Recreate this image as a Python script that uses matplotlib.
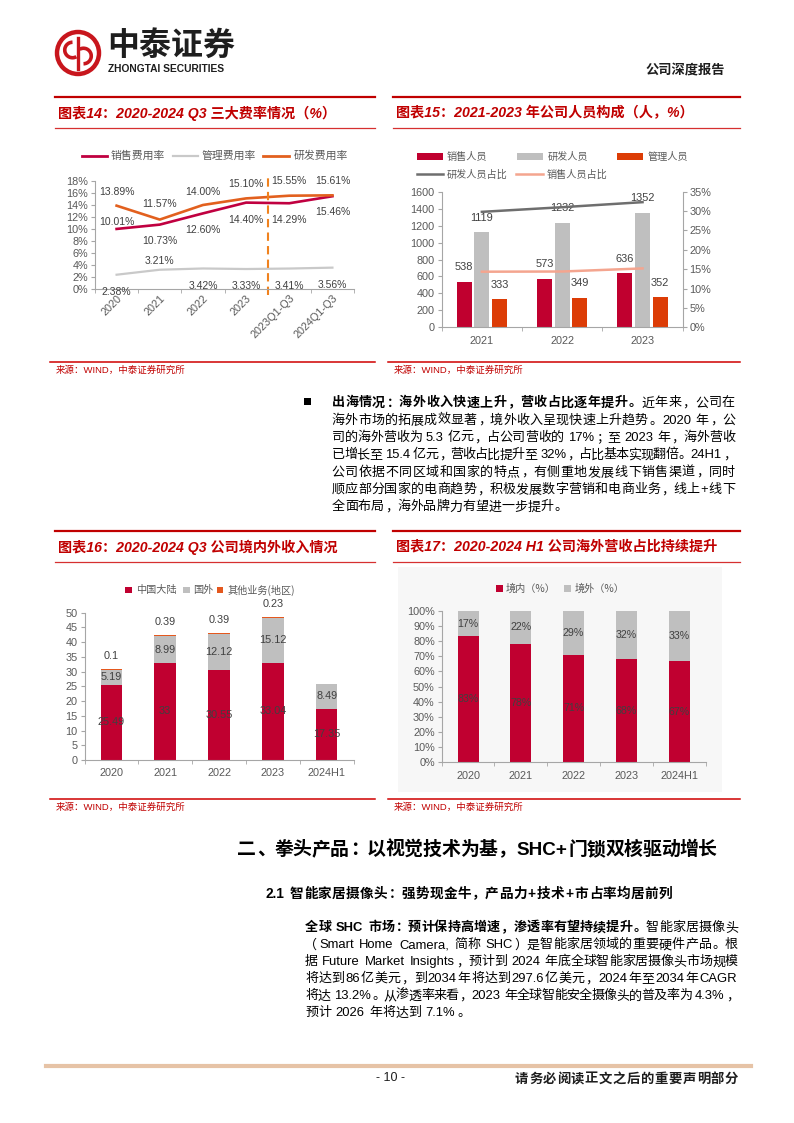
import re
import matplotlib
matplotlib.use('Agg')
import matplotlib.pyplot as plt
from matplotlib.lines import Line2D
from matplotlib.patches import Rectangle, Circle, Arc
from matplotlib import font_manager
import numpy as np

# ---------------- data ----------------
# Chart 14
fee_cats = ['2020', '2021', '2022', '2023', '2023Q1-Q3', '2024Q1-Q3']
sales_rate = [10.01, 10.73, 12.60, 14.40, 14.29, 15.46]
admin_rate = [2.38, 3.21, 3.42, 3.33, 3.41, 3.56]
rd_rate = [13.89, 11.57, 14.00, 15.10, 15.55, 15.61]

# Chart 15
staff_years = ['2021', '2022', '2023']
sales_staff = [538, 573, 636]
rd_staff = [1119, 1232, 1352]
admin_staff = [333, 349, 352]
rd_staff_pct = [29.8, 31.0, 32.3]
sales_staff_pct = [14.35, 14.4, 15.2]

# Chart 16
rev_years = ['2020', '2021', '2022', '2023', '2024H1']
rev_mainland = [25.49, 33, 30.55, 33.04, 17.35]
rev_overseas = [5.19, 8.99, 12.12, 15.12, 8.49]
rev_other = [0.1, 0.39, 0.39, 0.23, 0.0]

# Chart 17
share_years = ['2020', '2021', '2022', '2023', '2024H1']
share_domestic = [83, 78, 71, 68, 67]
share_overseas = [17, 22, 29, 32, 33]

# ---------------- setup ----------------
W, H = 794, 1123
_names = {f.name for f in font_manager.fontManager.ttflist}
NARROW = 'Liberation Sans Narrow' if 'Liberation Sans Narrow' in _names else 'Liberation Sans'
CJK = ['Noto Sans CJK SC', 'DejaVu Sans']
LAT = ['Liberation Sans', 'Noto Sans CJK SC', 'DejaVu Sans']
NAR = [NARROW, 'Noto Sans CJK SC', 'DejaVu Sans']
plt.rcParams['font.family'] = LAT

RED = '#C00000'
GRAYTXT = '#595959'
AXC = '#A6A6A6'

fig = plt.figure(figsize=(W / 100, H / 100), dpi=100)
renderer = fig.canvas.get_renderer()


def fx(x):
    return x / W


def fy(y):
    return 1 - y / H


def rect(l, t, r, b):
    return [l / W, 1 - b / H, (r - l) / W, (b - t) / H]


def hline(x0, x1, y, color, lw):
    fig.add_artist(Line2D([fx(x0), fx(x1)], [fy(y), fy(y)], color=color, lw=lw))


def txt(x, y, s, **kw):
    kw.setdefault('va', 'center')
    return fig.text(fx(x), fy(y), s, **kw)


def legend_line(x0, x1, y, color, lw, label, tx, size=7.3):
    hline(x0, x1, y, color, lw)
    txt(tx, y, label, fontsize=size, color=GRAYTXT, family=CJK)


def legend_box(x0, x1, y, h, color, label, tx, size=7.3):
    fig.add_artist(Rectangle((fx(x0), fy(y + h / 2)), (x1 - x0) / W, h / H,
                             transform=fig.transFigure, color=color, lw=0))
    txt(tx, y, label, fontsize=size, color=GRAYTXT, family=CJK)


TOK = r"[A-Za-z0-9.%+\-,()/]+| |[^A-Za-z0-9.%+\-,()/ ]"
OPEN = '（“《【'
CLOSEP = '，。：；、）”》】！？'


def jline(x0, x1, yc, segs, size, justify=True, color='#000000', latfam=LAT):
    em = size * 100 / 72
    base = yc + 0.36 * em
    entries = []
    for s, wt in segs:
        for m in re.finditer(TOK, s):
            t = m.group()
            if t == ' ':
                entries.append((None, 0.28 * em, 0))
            elif len(t) == 1 and ord(t) > 0x2E7F:
                if t in OPEN:
                    ha, off = 'right', 0.92 * em
                elif t in CLOSEP:
                    ha, off = 'left', 0.08 * em
                else:
                    ha, off = 'center', 0.5 * em
                o = fig.text(0, fy(base), t, fontsize=size, fontweight=wt, family=CJK,
                             ha=ha, va='baseline', color=color)
                entries.append((o, em, off))
            else:
                o = fig.text(0, fy(base), t, fontsize=size, fontweight=wt, family=latfam,
                             ha='left', va='baseline', color=color)
                w = o.get_window_extent(renderer).width
                entries.append((o, w + 0.12 * em, 0.06 * em))
    total = sum(e[1] for e in entries)
    gap = (x1 - x0 - total) / (len(entries) - 1) if (justify and len(entries) > 1) else 0
    x = x0
    for o, w, off in entries:
        if o is not None:
            o.set_x(fx(x + off))
        x += w + gap


def chart_frame(x0, x1, ytop, title, ysrc_line):
    hline(x0, x1, ytop, RED, 1.6)
    txt(x0 + 3, ytop + 16, title, fontsize=10.2, color=RED, fontweight='bold',
        style='italic', family=LAT)
    hline(x0, x1, ytop + 31, '#D63030', 0.9)
    hline(x0 - 5, x1, ysrc_line, '#D00000', 1.1)
    txt(x0 + 1, ysrc_line + 8, '来源：WIND，中泰证券研究所', fontsize=6.8, color=RED, family=LAT)


def style_cat_axes(ax, n, labels, rot=0):
    ax.set_xlim(-0.5, n - 0.5)
    ax.set_xticks(range(n))
    if rot:
        ax.set_xticklabels(labels, rotation=rot, ha='right', rotation_mode='anchor')
    else:
        ax.set_xticklabels(labels)
    ax.set_xticks(np.arange(-0.5, n, 1.0), minor=True)
    ax.tick_params(axis='x', which='major', length=0, pad=6, labelsize=7.8, labelcolor=GRAYTXT)
    ax.tick_params(axis='x', which='minor', length=3, color=AXC)
    ax.tick_params(axis='y', length=3, color=AXC, labelsize=7.8, labelcolor=GRAYTXT, pad=2)
    for s in ['top', 'right']:
        ax.spines[s].set_visible(False)
    for s in ['left', 'bottom']:
        ax.spines[s].set_color(AXC)
        ax.spines[s].set_linewidth(0.8)
    ax.set_facecolor('none')


# ---------------- header ----------------
axl = fig.add_axes(rect(53, 28, 103, 78))
axl.set_xlim(-1, 1)
axl.set_ylim(-1, 1)
axl.axis('off')
axl.add_patch(Circle((0, 0), 0.84, fill=False, ec='#C8161D', lw=3.2))
axl.add_patch(Arc((-0.22, 0.12), 0.62, 0.62, theta1=90, theta2=300, color='#C8161D', lw=2.6))
axl.add_patch(Arc((0.22, -0.12), 0.62, 0.62, theta1=-90, theta2=120, color='#C8161D', lw=2.6))
axl.plot([0, 0], [-0.62, 0.62], color='#C8161D', lw=2.4)

txt(107, 46, '中泰证券', fontsize=23, fontweight='bold', color='#1E1E1E', family=CJK)
txt(108, 69, 'ZHONGTAI SECURITIES', fontsize=7.4, fontweight='bold', color='#1E1E1E', family=NAR)
txt(645, 69, '公司深度报告', fontsize=9.5, fontweight='bold', color='#1E1E1E', family=CJK)

# ---------------- chart frames ----------------
chart_frame(55, 375, 97, '图表14：2020-2024 Q3 三大费率情况（%）', 362)
chart_frame(393, 740, 97, '图表15：2021-2023 年公司人员构成（人，%）', 362)
chart_frame(55, 375, 531, '图表16：2020-2024 Q3 公司境内外收入情况', 799)
chart_frame(393, 740, 531, '图表17：2020-2024 H1 公司海外营收占比持续提升', 799)

# ---------------- chart 14 ----------------
C_SALES = '#C00040'
C_ADMIN = '#C9C9C9'
C_RD = '#E2601E'
ax1 = fig.add_axes(rect(95, 181, 354, 289))
x6 = np.arange(len(fee_cats))
ax1.plot(x6, admin_rate, color=C_ADMIN, lw=1.6)
ax1.plot(x6, sales_rate, color=C_SALES, lw=1.9)
ax1.plot(x6, rd_rate, color=C_RD, lw=1.9)
ax1.plot([3.5, 3.5], [-1.0, 19.0], color='#F0821E', lw=1.5, ls=(0, (4, 2.5)), clip_on=False)
style_cat_axes(ax1, len(fee_cats), fee_cats, rot=45)
ax1.tick_params(axis='x', which='major', pad=3)
ax1.set_ylim(0, 18)
ax1.set_yticks(range(0, 19, 2))
ax1.set_yticklabels([f'{v}%' for v in range(0, 19, 2)])
rd_up = [13.7, 15.6, 13, 14.4, 14.7, 14]
sales_up = [7, -16.4, -16.6, -17.4, -16.7, -16]
admin_up = [-17, 9, -17.5, -17, -17, -17]
for vals, ups in [(rd_rate, rd_up), (sales_rate, sales_up), (admin_rate, admin_up)]:
    for i, (v, u) in enumerate(zip(vals, ups)):
        ax1.annotate(f'{v:.2f}%', (i, v), xytext=(0, u), textcoords='offset pixels',
                     ha='center', va='center', fontsize=7.5, color='#404040',
                     annotation_clip=False)
legend_line(82, 107, 156, C_SALES, 2.0, '销售费用率', 111, size=7.8)
legend_line(173, 198, 156, C_ADMIN, 1.6, '管理费用率', 202, size=7.8)
legend_line(263, 289, 156, C_RD, 2.0, '研发费用率', 294, size=7.8)

# ---------------- chart 15 ----------------
C_B1 = '#C0002F'
C_B2 = '#BFBFBF'
C_B3 = '#DC3C06'
ax2 = fig.add_axes(rect(441.7, 191.7, 682.7, 327.3))
x3 = np.arange(len(staff_years))
bw = 0.185
off = 0.22
ax2.bar(x3 - off, sales_staff, bw, color=C_B1, lw=0)
ax2.bar(x3, rd_staff, bw, color=C_B2, lw=0)
ax2.bar(x3 + off, admin_staff, bw, color=C_B3, lw=0)
style_cat_axes(ax2, len(staff_years), staff_years)
ax2.set_ylim(0, 1600)
ax2.set_yticks(range(0, 1601, 200))
for dx, vals in [(-off, sales_staff), (0, rd_staff), (off, admin_staff)]:
    for i, v in enumerate(vals):
        ax2.annotate(f'{v}', (i + dx, v), xytext=(0, 14.5), textcoords='offset pixels',
                     ha='center', va='center', fontsize=7.9, color='#404040')
ax2r = ax2.twinx()
ax2r.set_ylim(0, 35)
ax2r.set_yticks(range(0, 36, 5))
ax2r.set_yticklabels([f'{v}%' for v in range(0, 36, 5)])
ax2r.plot(x3, rd_staff_pct, color='#6E6E6E', lw=1.8)
ax2r.plot(x3, sales_staff_pct, color='#F4A58F', lw=1.8)
for s in ['top', 'left', 'bottom']:
    ax2r.spines[s].set_visible(False)
ax2r.spines['right'].set_color(AXC)
ax2r.spines['right'].set_linewidth(0.8)
ax2r.tick_params(axis='y', length=3, color=AXC, labelsize=7.8, labelcolor=GRAYTXT, pad=2)
legend_box(416.7, 443, 156.7, 7, C_B1, '销售人员', 447)
legend_box(516.7, 543, 156.7, 7, C_B2, '研发人员', 548)
legend_box(616.7, 643, 156.7, 7, C_B3, '管理人员', 648)
legend_line(416.7, 443, 174.3, '#6E6E6E', 1.8, '研发人员占比', 447)
legend_line(516, 543, 174.3, '#F4A58F', 1.8, '销售人员占比', 547)

# ---------------- chart 16 ----------------
C_M = '#C00030'
C_O = '#BFBFBF'
C_X = '#E4581E'
ax3 = fig.add_axes(rect(84.5, 612.7, 353.5, 760))
x5 = np.arange(len(rev_years))
bw5 = 0.4
ax3.bar(x5, rev_mainland, bw5, color=C_M, lw=0)
ax3.bar(x5, rev_overseas, bw5, bottom=rev_mainland, color=C_O, lw=0)
bot2 = [a + b for a, b in zip(rev_mainland, rev_overseas)]
ax3.bar(x5, rev_other, bw5, bottom=bot2, color=C_X, lw=0)
style_cat_axes(ax3, len(rev_years), rev_years)
ax3.set_ylim(0, 50)
ax3.set_yticks(range(0, 51, 5))
for i in range(len(rev_years)):
    ax3.text(i, rev_mainland[i] / 2, f'{rev_mainland[i]:g}', ha='center', va='center',
             fontsize=7.8, color='#404040')
    ax3.text(i, rev_mainland[i] + rev_overseas[i] / 2, f'{rev_overseas[i]:g}', ha='center',
             va='center', fontsize=7.8, color='#404040')
    if rev_other[i] > 0:
        ax3.annotate(f'{rev_other[i]:g}', (i, bot2[i] + rev_other[i]), xytext=(0, 13.5),
                     textcoords='offset pixels', ha='center', va='center', fontsize=7.8,
                     color='#404040', annotation_clip=False)
legend_box(125, 131.7, 590, 6.7, C_M, '中国大陆', 136)
legend_box(183, 189.7, 590, 6.7, C_O, '国外', 193)
legend_box(216.7, 223.4, 590, 6.7, C_X, '其他业务(地区)', 228)

# ---------------- chart 17 ----------------
fig.add_artist(Rectangle((fx(398), fy(792)), (722 - 398) / W, (792 - 567) / H,
                         transform=fig.transFigure, color='#F7F7F7', lw=0, zorder=0))
ax4 = fig.add_axes(rect(441.7, 610.7, 705.5, 762.3))
ax4.bar(x5, share_domestic, bw5, color=C_M, lw=0)
ax4.bar(x5, share_overseas, bw5, bottom=share_domestic, color=C_O, lw=0)
style_cat_axes(ax4, len(share_years), share_years)
ax4.set_ylim(0, 100)
ax4.set_yticks(range(0, 101, 10))
ax4.set_yticklabels([f'{v}%' for v in range(0, 101, 10)])
for i in range(len(share_years)):
    ax4.text(i, share_domestic[i] / 2, f'{share_domestic[i]}%', ha='center', va='center',
             fontsize=7.7, color='#404040')
    ax4.text(i, share_domestic[i] + share_overseas[i] / 2, f'{share_overseas[i]}%',
             ha='center', va='center', fontsize=7.7, color='#404040')
legend_box(496, 502.7, 588.3, 6.7, C_M, '境内（%）', 506)
legend_box(564, 570.7, 588.3, 6.7, C_O, '境外（%）', 575)

# ---------------- paragraph 1 ----------------
fig.add_artist(Rectangle((fx(303.5), fy(405.2)), 7 / W, 7 / H, transform=fig.transFigure,
                         color='#000000', lw=0))
p1 = [
    [('出海情况：海外收入快速上升，营收占比逐年提升。', 'bold'), ('近年来，公司在', 'normal')],
    [('海外市场的拓展成效显著，境外收入呈现快速上升趋势。2020 年，公', 'normal')],
    [('司的海外营收为 5.3 亿元，占公司营收的 17%；至 2023 年，海外营收', 'normal')],
    [('已增长至 15.4 亿元，营收占比提升至 32%，占比基本实现翻倍。24H1，', 'normal')],
    [('公司依据不同区域和国家的特点，有侧重地发展线下销售渠道，同时', 'normal')],
    [('顺应部分国家的电商趋势，积极发展数字营销和电商业务，线上+线下', 'normal')],
    [('全面布局，海外品牌力有望进一步提升。', 'normal')],
]
for k, segs in enumerate(p1):
    jline(331.7, 735, 401.7 + 17.33 * k, segs, 9.4, justify=(k < len(p1) - 1))

# ---------------- section heading ----------------
jline(237, 717, 848, [('二、拳头产品：以视觉技术为基，SHC+门锁双核驱动增长', 'bold')], 13.6)
jline(265, 672, 893, [('2.1 智能家居摄像头：强势现金牛，产品力+技术+市占率均居前列', 'bold')], 9.8)

p2 = [
    [('全球 SHC 市场：预计保持高增速，渗透率有望持续提升。', 'bold'), ('智能家居摄像头', 'normal')],
    [('（Smart Home Camera, 简称 SHC）是智能家居领域的重要硬件产品。根', 'normal')],
    [('据 Future Market Insights，预计到 2024 年底全球智能家居摄像头市场规模', 'normal')],
    [('将达到86亿美元，到2034年将达到297.6亿美元，2024年至2034年CAGR', 'normal')],
    [('将达 13.2%。从渗透率来看，2023 年全球智能安全摄像头的普及率为 4.3%，', 'normal')],
    [('预计 2026 年将达到 7.1%。', 'normal')],
]
for k, segs in enumerate(p2):
    jline(305, 738, 926.5 + 17.05 * k, segs, 9.4, justify=(k < len(p2) - 1), latfam=NAR)

# ---------------- footer ----------------
hline(46, 751, 1066, '#E6C3A6', 3.0)
txt(390, 1078, '- 10 -', fontsize=9, ha='center', color='#1E1E1E', family=NAR)
jline(515, 738, 1078, [('请务必阅读正文之后的重要声明部分', 'bold')], 9.6, color='#1E1E1E')

fig.savefig('out.png', dpi=100)
